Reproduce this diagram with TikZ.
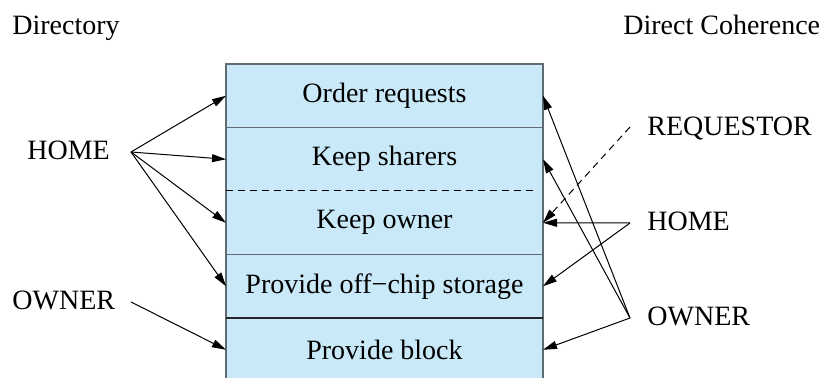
\documentclass[tikz,border=0pt]{standalone}
\usepackage{fontspec}
\setmainfont{Liberation Serif}
\usetikzlibrary{arrows.meta,positioning}
\definecolor{rowblue}{RGB}{201,233,248}
\definecolor{edgegray}{RGB}{95,107,115}

\begin{document}
\begin{tikzpicture}[
    x=0.5pt, y=-0.5pt,
    font=\fontsize{14}{16}\selectfont,
    row/.style={
        rectangle,
        fill=rowblue,
        minimum width=158.5pt,
        minimum height=31.75pt,
        inner sep=0pt,
        outer sep=0pt
    },
    tag/.style={inner sep=0pt, anchor=base west},
    frame/.style={draw=edgegray, line width=0.8pt},
    dividerdash/.style={draw=black, line width=0.5pt, dash pattern=on 3.5pt off 2.5pt},
    arrow/.style={-{Triangle[length=7pt,width=4pt]}, line width=0.5pt},
    dashedarrow/.style={arrow, dash pattern=on 3.5pt off 2.5pt}
]
\useasboundingbox (0,0) rectangle (822,378);

% Rows of the table
\node[row, anchor=north west] (order) at (226,64) {Order requests};
\node[row, below=0pt of order] (sharers) {Keep sharers};
\node[row, below=0pt of sharers] (owner) {Keep owner};
\node[row, below=0pt of owner] (offchip) {Provide off−chip storage};
\node[row, below=0pt of offchip] (block) {Provide block};

% Frame and dividers
\draw[frame] (block.south west) |- (order.north east) -- (block.south east);
\draw[frame] (order.south west) -- (order.south east);
\draw[dividerdash] (sharers.south west) -- ([xshift=-3pt]sharers.south east);
\draw[frame] (owner.south west) -- (owner.south east);
\draw[frame, draw=black!85] (offchip.south west) -- (offchip.south east);

% Headings
\node[tag] (dirhead) at (12,35) {Directory};
\node[tag] (dchead) at (623,35) {Direct Coherence};

% Directory side
\node[tag] (lhome) at (27,160) {HOME};
\node[tag] (lowner) at (12,310) {OWNER};
\coordinate (lhomeout) at (131,152);
\coordinate (lownerout) at (131,302);

% Direct coherence side
\node[tag] (rreq) at (647,136) {REQUESTOR};
\node[tag] (rhome) at (647,231) {HOME};
\node[tag] (rowner) at (647,326) {OWNER};
\coordinate (rreqout) at (630,127);
\coordinate (rhomeout) at (630,223);
\coordinate (rownerout) at (630,318);

% Directory arrows
\draw[arrow] (lhomeout) -- (order.west);
\draw[arrow] (lhomeout) -- (sharers.west);
\draw[arrow] (lhomeout) -- (owner.west);
\draw[arrow] (lhomeout) -- (offchip.west);
\draw[arrow] (lownerout) -- (block.west);

% Direct coherence arrows
\draw[dashedarrow] (rreqout) -- (owner.east);
\draw[arrow] (rhomeout) -- (owner.east);
\draw[arrow] (rhomeout) -- (offchip.east);
\draw[arrow] (rownerout) -- (order.east);
\draw[arrow] (rownerout) -- (sharers.east);
\draw[arrow] (rownerout) -- (block.east);

\end{tikzpicture}
\end{document}
